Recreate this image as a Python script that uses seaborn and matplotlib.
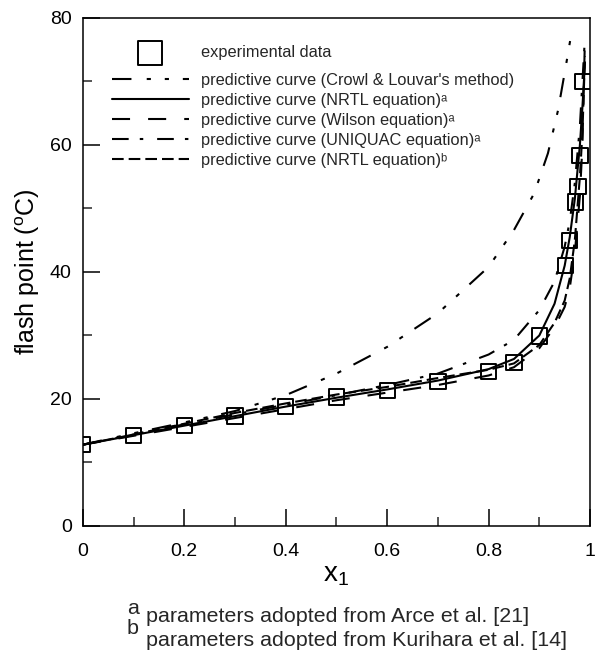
import matplotlib
matplotlib.use("Agg")
import matplotlib.pyplot as plt
import seaborn as sns
import numpy as np
import pandas as pd

# ---------------- data ----------------
exp_x = [0.0, 0.1, 0.2, 0.3, 0.4, 0.5, 0.6, 0.7, 0.8, 0.85, 0.9, 0.952, 0.96, 0.972, 0.976, 0.98, 0.986]
exp_y = [12.8, 14.3, 15.8, 17.3, 18.8, 20.3, 21.3, 22.8, 24.3, 25.8, 29.9, 41.0, 45.0, 51.0, 53.5, 58.3, 70.0]

crowl_x = [0.0, 0.1, 0.2, 0.3, 0.4, 0.5, 0.6, 0.7, 0.8, 0.85, 0.89, 0.917, 0.937, 0.952, 0.962]
crowl_y = [12.8, 14.6, 16.3, 18.1, 20.6, 24.0, 28.2, 33.5, 40.8, 46.6, 52.4, 58.7, 65.5, 72.3, 77.0]

nrtl_a_x = [0.0, 0.1, 0.2, 0.3, 0.4, 0.5, 0.6, 0.7, 0.8, 0.85, 0.9, 0.93, 0.95, 0.96, 0.97, 0.98, 0.985, 0.99]
nrtl_a_y = [12.8, 14.3, 15.8, 17.3, 18.8, 20.2, 21.5, 22.9, 24.7, 26.3, 30.0, 35.0, 41.0, 45.5, 51.5, 60.0, 66.0, 73.0]

wilson_x = [0.0, 0.1, 0.2, 0.3, 0.4, 0.5, 0.6, 0.7, 0.8, 0.85, 0.9, 0.93, 0.95, 0.96, 0.97, 0.98, 0.985, 0.99]
wilson_y = [12.8, 14.2, 15.6, 17.0, 18.4, 19.8, 21.0, 22.2, 23.7, 25.0, 28.0, 31.3, 34.5, 37.5, 43.0, 52.0, 60.0, 77.0]

uniquac_x = [0.0, 0.1, 0.2, 0.3, 0.4, 0.5, 0.6, 0.7, 0.8, 0.85, 0.9, 0.93, 0.95, 0.96, 0.97, 0.98, 0.985, 0.99]
uniquac_y = [12.8, 14.4, 16.0, 17.6, 19.1, 20.6, 22.2, 24.0, 27.0, 29.3, 34.0, 38.5, 44.0, 48.0, 54.0, 63.0, 70.0, 77.0]

nrtl_b_x = [0.0, 0.1, 0.2, 0.3, 0.4, 0.5, 0.6, 0.7, 0.8, 0.85, 0.9, 0.93, 0.95, 0.96, 0.97, 0.98, 0.985, 0.99]
nrtl_b_y = [12.8, 14.4, 16.1, 17.8, 19.3, 20.7, 21.9, 23.3, 24.6, 25.6, 28.5, 32.0, 35.5, 39.0, 45.0, 55.0, 62.0, 74.0]

labels = [
    "experimental data",
    "predictive curve (Crowl & Louvar's method)",
    "predictive curve (NRTL equation)\u1d43",
    "predictive curve (Wilson equation)\u1d43",
    "predictive curve (UNIQUAC equation)\u1d43",
    "predictive curve (NRTL equation)\u1d47",
]

x_ticks = [0, 0.2, 0.4, 0.6, 0.8, 1]
x_ticklabels = ["0", "0.2", "0.4", "0.6", "0.8", "1"]
y_ticks = [0, 20, 40, 60, 80]

# ---------------- style ----------------
sns.set_theme(style="white")
plt.rcParams["font.family"] = ["Liberation Sans", "DejaVu Sans"]
plt.rcParams["mathtext.fontset"] = "custom"
plt.rcParams["mathtext.rm"] = "Liberation Sans"
plt.rcParams["mathtext.it"] = "Liberation Sans:italic"
plt.rcParams["lines.scale_dashes"] = False

fig = plt.figure(figsize=(5.96, 6.52), dpi=100)
ax = fig.add_axes([0.139, 0.1933, 0.851, 0.7791])

lw = 1.5
sns.scatterplot(x=exp_x, y=exp_y, ax=ax, marker="s", s=11**2,
                facecolor="none", edgecolor="black", linewidth=1.4,
                label=labels[0], zorder=5)
sns.lineplot(x=crowl_x, y=crowl_y, ax=ax, color="black", linewidth=lw,
             linestyle=(0, (14, 11, 3, 10, 3, 10)), label=labels[1])
sns.lineplot(x=nrtl_a_x, y=nrtl_a_y, ax=ax, color="black", linewidth=lw,
             linestyle="-", label=labels[2])
sns.lineplot(x=wilson_x, y=wilson_y, ax=ax, color="black", linewidth=lw,
             linestyle=(0, (13, 13)), label=labels[3])
sns.lineplot(x=uniquac_x, y=uniquac_y, ax=ax, color="black", linewidth=lw,
             linestyle=(0, (12, 8, 2.5, 10)), label=labels[4])
sns.lineplot(x=nrtl_b_x, y=nrtl_b_y, ax=ax, color="black", linewidth=lw,
             linestyle=(0, (8.4, 3.6)), label=labels[5])

ax.set_xlim(0, 1)
ax.set_ylim(0, 80)
ax.set_xticks(x_ticks)
ax.set_xticklabels(x_ticklabels)
ax.set_yticks(y_ticks)
ax.set_xticks(np.arange(0.1, 1.0, 0.2), minor=True)
ax.set_yticks([10, 30, 50, 70], minor=True)
ax.tick_params(axis="both", which="major", direction="in", length=12, width=1.1,
               labelsize=14, color="black", labelcolor="black",
               bottom=True, left=True, top=False, right=False)
ax.tick_params(axis="x", which="major", pad=12)
ax.tick_params(axis="y", which="major", pad=8)
ax.tick_params(axis="both", which="minor", direction="in", length=6.5, width=1.1,
               bottom=True, left=True, top=False, right=False)
for sp in ax.spines.values():
    sp.set_visible(True)
    sp.set_color("black")
    sp.set_linewidth(1.1)

ax.set_xlabel(r"x$_{\mathregular{1}}$", fontsize=20, labelpad=2, color="black")
ax.set_ylabel(r"flash point ($^{\mathregular{o}}$C)", fontsize=18, labelpad=6, color="black")

handles, labs = ax.get_legend_handles_labels()
common = dict(loc="upper left", frameon=False, fontsize=11.8, handlelength=4.7,
              handletextpad=0.75, borderpad=0, borderaxespad=0)
leg1 = ax.legend(handles[:1], labs[:1], bbox_to_anchor=(0.057, 0.946),
                 markerscale=1.6, **common)
ax.add_artist(leg1)
leg2 = ax.legend(handles[1:], labs[1:], bbox_to_anchor=(0.057, 0.8927),
                 labelspacing=0.31, **common)

fs = 15.4
fig.text(133 / 596, 1 - 608 / 652, "a", fontsize=fs, va="center", ha="center")
fig.text(146 / 596, 1 - 617 / 652, "parameters adopted from Arce et al. [21]",
         fontsize=fs, va="center", ha="left")
fig.text(133 / 596, 1 - 628 / 652, "b", fontsize=fs, va="center", ha="center")
fig.text(146 / 596, 1 - 641 / 652, "parameters adopted from Kurihara et al. [14]",
         fontsize=fs, va="center", ha="left")

fig.savefig("out.png", dpi=100, facecolor="white")
